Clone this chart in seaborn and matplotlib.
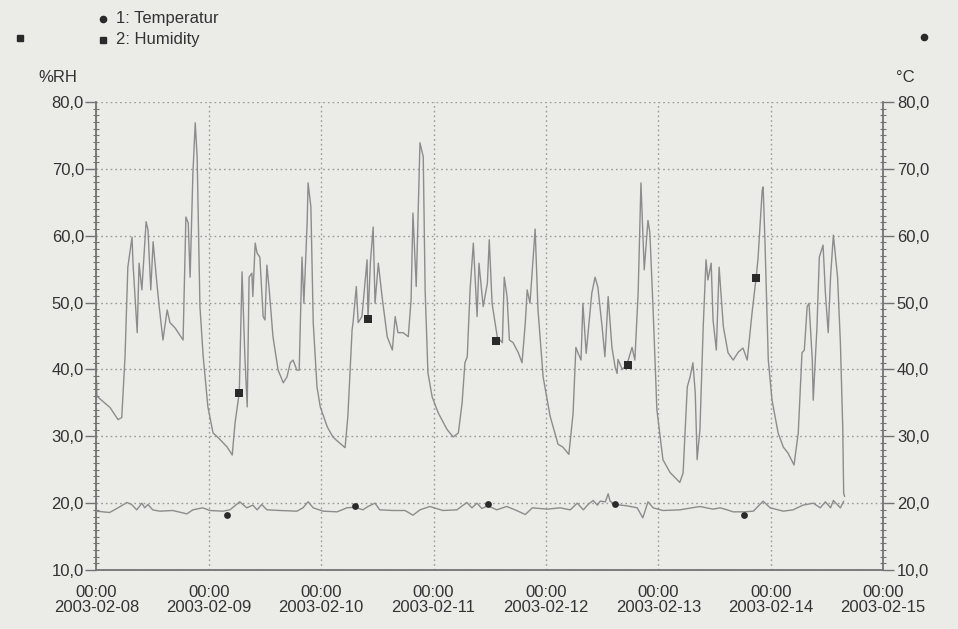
import numpy as np
import pandas as pd
import matplotlib
matplotlib.use("Agg")
import matplotlib.pyplot as plt
import matplotlib.dates as mdates
from matplotlib.ticker import FuncFormatter, MultipleLocator, FixedLocator
from matplotlib.lines import Line2D
import seaborn as sns

START = pd.Timestamp("2003-02-08 00:00")
END = pd.Timestamp("2003-02-15 00:00")

# Relative humidity (%RH), hours after START
rh_hours = [
    0.0, 0.1, 1.4, 2.9, 4.6, 5.4, 6.1, 6.7, 7.6, 7.8, 8.7, 9.1, 9.7, 10.6, 11.0,
    11.6, 12.1, 12.9, 13.4, 14.2, 15.1, 15.7, 16.8, 18.5, 19.1, 19.6, 20.0, 20.6,
    21.1, 21.5, 22.1, 22.8, 23.8, 24.9, 26.0, 27.9, 29.0, 29.6, 30.5, 31.1, 31.7,
    32.2, 32.6, 33.2, 33.4, 33.9, 34.3, 34.9, 35.6, 36.0, 36.4, 36.9, 37.7, 38.8,
    39.9, 40.7, 41.4, 42.0, 42.8, 43.3, 43.9, 44.3, 45.0, 45.2, 45.8, 46.3, 47.1,
    47.8, 49.3, 50.5, 51.6, 53.1, 53.7, 54.6, 54.8, 55.5, 55.9, 56.7, 57.8, 58.0,
    58.5, 59.1, 59.5, 60.2, 61.0, 62.1, 63.2, 63.8, 64.4, 65.5, 66.6, 67.2, 67.6,
    68.3, 69.1, 69.8, 70.2, 70.8, 71.7, 73.0, 74.9, 76.2, 77.3, 78.1, 78.7, 79.2,
    79.8, 80.5, 81.3, 81.7, 82.6, 83.5, 83.9, 84.5, 85.6, 86.7, 87.1, 87.7, 88.2,
    89.0, 90.1, 90.9, 91.6, 92.0, 92.6, 93.7, 94.3, 95.4, 96.9, 98.6, 99.6, 100.9,
    101.8, 102.4, 102.9, 103.5, 103.9, 104.6, 105.0, 105.8, 106.5, 107.1, 108.0,
    108.6, 109.3, 110.1, 110.8, 111.2, 111.4, 112.3, 113.3, 114.4, 115.0, 115.7,
    116.3, 117.0, 117.8, 118.2, 118.9, 119.7, 121.0, 122.5, 124.6, 125.3, 126.2,
    126.8, 127.4, 127.9, 128.3, 128.9, 129.6, 130.2, 130.6, 131.3, 131.7, 132.4,
    133.0, 133.9, 134.9, 136.0, 137.1, 138.1, 139.0, 140.1, 140.9, 141.3, 142.2,
    142.4, 142.8, 143.5, 144.3, 145.6, 146.7, 147.7, 149.0, 149.9, 150.7, 151.2,
    151.8, 152.2, 152.9, 153.1, 153.9, 154.4, 155.2, 155.7, 156.3, 156.8, 157.4,
    158.3, 158.9, 159.4, 159.6, 159.8,
]
rh_values = [
    38.4, 36.0, 35.2, 34.3, 32.5, 32.8, 41.9, 55.3, 59.8, 55.9, 45.5, 55.9, 51.9,
    62.1, 60.9, 51.9, 59.1, 52.9, 49.4, 44.4, 48.9, 47.0, 46.2, 44.4, 62.8, 61.9,
    53.8, 69.4, 76.9, 71.8, 49.4, 41.9, 34.4, 30.5, 29.8, 28.4, 27.2, 32.0, 36.5,
    54.6, 41.9, 34.4, 53.8, 54.4, 50.9, 58.9, 57.4, 56.8, 47.9, 47.4, 55.6, 51.9,
    44.9, 39.9, 38.0, 38.9, 41.0, 41.4, 39.9, 39.9, 56.8, 49.9, 61.9, 67.9, 64.3,
    47.0, 37.4, 34.4, 31.4, 29.9, 29.2, 28.3, 33.0, 45.9, 47.0, 52.4, 47.0, 47.9,
    56.4, 47.4, 55.9, 61.3, 49.9, 55.9, 50.9, 44.9, 42.9, 47.9, 45.5, 45.5, 44.9,
    50.4, 63.4, 52.4, 73.9, 71.8, 51.9, 39.5, 35.9, 33.5, 31.0, 29.9, 30.5, 35.0,
    41.0, 41.9, 51.9, 58.9, 47.9, 55.9, 49.4, 52.9, 59.4, 49.9, 44.9, 44.0, 53.8,
    50.9, 44.4, 44.0, 42.5, 41.0, 47.0, 51.9, 49.9, 61.0, 49.0, 38.9, 33.0, 28.8,
    28.4, 27.3, 33.4, 43.3, 42.4, 41.4, 49.9, 42.4, 45.4, 51.4, 53.8, 52.3, 46.4,
    41.9, 50.9, 43.3, 40.3, 39.4, 41.5, 40.0, 40.7, 43.3, 41.4, 51.4, 67.9, 54.9,
    62.3, 60.5, 48.9, 34.0, 26.5, 24.6, 23.1, 24.5, 37.4, 38.9, 41.0, 36.5, 26.5,
    31.0, 46.4, 56.4, 53.4, 55.9, 47.4, 42.9, 55.3, 46.4, 42.5, 41.4, 42.6, 43.2,
    41.4, 48.9, 53.7, 56.5, 66.8, 67.3, 58.9, 41.4, 35.4, 30.5, 28.4, 27.5, 25.7,
    30.5, 42.5, 42.9, 49.4, 49.9, 41.4, 35.4, 46.4, 56.8, 58.6, 51.4, 45.5, 53.8,
    60.1, 53.8, 44.0, 31.4, 21.5, 21.0,
]

# Temperature (°C), hours after START
temp_hours = [
    0.0, 2.8, 4.6, 6.5, 7.5, 8.6, 9.7, 10.3, 11.0, 12.0, 13.5, 16.3, 19.3, 20.6,
    22.7, 24.2, 27.0, 28.5, 30.6, 32.1, 33.4, 34.3, 35.3, 36.4, 39.2, 42.8, 44.1,
    45.2, 46.3, 48.4, 51.4, 53.5, 55.2, 56.9, 58.0, 59.5, 60.5, 63.3, 65.9, 67.6,
    69.1, 71.2, 74.0, 77.0, 79.1, 80.2, 81.3, 82.3, 83.6, 85.5, 87.6, 89.4, 91.6,
    93.1, 96.3, 99.0, 101.2, 102.7, 104.0, 105.0, 106.1, 107.0, 107.6, 108.7,
    109.3, 109.7, 110.8, 113.3, 115.5, 116.7, 117.8, 118.9, 121.0, 124.6, 128.9,
    131.7, 133.2, 134.7, 136.0, 138.4, 140.3, 142.4, 143.9, 146.7, 148.8, 150.9,
    153.1, 154.6, 155.7, 156.8, 157.4, 158.9, 159.6,
]
temp_values = [
    18.8, 18.6, 19.3, 20.1, 19.8, 19.0, 20.0, 19.3, 19.8, 19.0, 18.8, 18.9, 18.4,
    19.0, 19.3, 18.9, 18.8, 19.0, 20.2, 19.3, 19.7, 19.0, 19.8, 19.0, 18.9, 18.8,
    19.3, 20.2, 19.3, 18.8, 18.7, 19.3, 19.4, 19.0, 19.5, 20.0, 19.0, 18.9, 18.9,
    18.2, 19.0, 19.5, 18.9, 19.0, 20.1, 19.3, 20.0, 19.2, 19.6, 19.0, 19.5, 19.0,
    18.3, 19.3, 19.1, 19.3, 19.0, 20.0, 19.0, 19.8, 20.4, 19.7, 20.3, 20.2, 21.4,
    20.3, 19.8, 19.6, 19.3, 17.8, 20.2, 19.3, 18.9, 19.0, 19.5, 19.1, 19.3, 19.0,
    18.7, 18.7, 18.8, 20.3, 19.3, 18.8, 19.0, 19.7, 20.0, 19.3, 20.2, 19.3, 20.4,
    19.3, 20.3,
]

# Every n-th sample is flagged with the series symbol
rh_marker_hours = [30.4, 58.0, 85.3, 113.5, 140.9]
rh_marker_values = [36.5, 47.5, 44.3, 40.7, 53.7]
temp_marker_hours = [27.9, 55.2, 83.6, 110.8, 138.4]
temp_marker_values = [18.3, 19.6, 19.9, 19.9, 18.3]

y_ticks = [10, 20, 30, 40, 50, 60, 70, 80]
series_labels = ["1: Temperatur", "2: Humidity"]
left_unit = "%RH"
right_unit = "°C"

BG = "#ebebe8"
LINE = "#8c8c8c"
MARK = "#2a2a2a"
AXIS = "#737373"
GRID = "#9a9a9a"
TXT = "#333333"
FS = 12


def stamp(hours):
    return START + pd.to_timedelta(hours, unit="h")


rh_df = pd.DataFrame({"time": stamp(rh_hours), "rh": rh_values})
temp_df = pd.DataFrame({"time": stamp(temp_hours), "temp": temp_values})
rh_mk = pd.DataFrame({"time": stamp(rh_marker_hours), "rh": rh_marker_values})
temp_mk = pd.DataFrame({"time": stamp(temp_marker_hours), "temp": temp_marker_values})

sns.set_theme(style="white")
plt.rcParams["font.family"] = ["Liberation Sans", "DejaVu Sans"]

fig = plt.figure(figsize=(9.58, 6.29), dpi=100, facecolor=BG)
ax = fig.add_axes([0.1007, 0.0938, 0.8210, 0.7440])
ax.set_facecolor(BG)
ax2 = ax.twinx()
ax2.patch.set_visible(False)

# humidity on the left scale
sns.lineplot(data=rh_df, x="time", y="rh", ax=ax, color=LINE, linewidth=1.0,
             estimator=None, sort=False, legend=False)
sns.scatterplot(data=rh_mk, x="time", y="rh", ax=ax, marker="s", s=30,
                color=MARK, edgecolor=MARK, linewidth=0, legend=False, zorder=5)

# temperature on the right scale
sns.lineplot(data=temp_df, x="time", y="temp", ax=ax2, color=LINE, linewidth=1.0,
             estimator=None, sort=False, legend=False)
sns.scatterplot(data=temp_mk, x="time", y="temp", ax=ax2, marker="o", s=24,
                color=MARK, edgecolor=MARK, linewidth=0, legend=False, zorder=5)

comma = FuncFormatter(lambda v, pos: f"{v:.1f}".replace(".", ","))
for a in (ax, ax2):
    a.set_ylim(10, 80)
    a.yaxis.set_major_locator(FixedLocator(y_ticks))
    a.yaxis.set_minor_locator(MultipleLocator(1))
    a.yaxis.set_major_formatter(comma)
    a.set_xlabel("")
    a.set_ylabel("")
    a.spines["top"].set_visible(False)

ax.set_xlim(START, END)
ax.xaxis.set_major_locator(mdates.DayLocator())
ax.xaxis.set_minor_locator(mdates.HourLocator(byhour=[12]))
ax.xaxis.set_major_formatter(mdates.DateFormatter("%H:%M\n%Y-%m-%d"))

ax.grid(True, which="major", axis="both", color=GRID, linestyle=(0, (1.2, 2.2)),
        linewidth=1.0)
ax.set_axisbelow(True)

for side in ("left", "bottom"):
    ax.spines[side].set_color(AXIS)
    ax.spines[side].set_linewidth(1.3)
ax.spines["right"].set_visible(False)
ax2.spines["left"].set_visible(False)
ax2.spines["bottom"].set_visible(False)
ax2.spines["right"].set_color(AXIS)
ax2.spines["right"].set_linewidth(1.3)

ax.tick_params(axis="y", which="major", direction="out", length=8, width=1.0,
               color=AXIS, labelsize=FS, labelcolor=TXT, pad=1)
ax.tick_params(axis="y", which="minor", direction="inout", length=4, width=0.8,
               color=AXIS)
ax2.tick_params(axis="y", which="major", direction="out", length=8, width=1.0,
                color=AXIS, labelsize=FS, labelcolor=TXT, pad=2)
ax2.tick_params(axis="y", which="minor", direction="inout", length=4, width=0.8,
                color=AXIS)
ax.tick_params(axis="x", which="major", direction="out", length=5, width=1.0,
               color=AXIS, labelsize=FS, labelcolor=TXT, pad=6)
ax.tick_params(axis="x", which="minor", direction="in", length=4, width=0.8,
               color=AXIS)
for lab in ax.get_xticklabels():
    lab.set_linespacing(1.0)

# unit captions above both scales
fig.text(0.0605, 0.876, left_unit, ha="center", va="center", fontsize=FS, color=TXT)
fig.text(0.9447, 0.876, right_unit, ha="center", va="center", fontsize=FS, color=TXT)

# series key
key_rows = [(0.9700, "o", 4.5), (0.9370, "s", 5.0)]
for (ypos, mk, ms), label in zip(key_rows, series_labels):
    fig.add_artist(Line2D([0.1075], [ypos], transform=fig.transFigure, marker=mk,
                          markersize=ms, color=MARK, linestyle="none"))
    fig.text(0.1210, ypos, label, ha="left", va="center", fontsize=FS, color=TXT)

# scale symbols: humidity on the left, temperature on the right
fig.add_artist(Line2D([0.0209], [0.9396], transform=fig.transFigure, marker="s",
                      markersize=5.0, color=MARK, linestyle="none"))
fig.add_artist(Line2D([0.9645], [0.9412], transform=fig.transFigure, marker="o",
                      markersize=4.5, color=MARK, linestyle="none"))

fig.savefig("out.png", dpi=100, facecolor=BG)
